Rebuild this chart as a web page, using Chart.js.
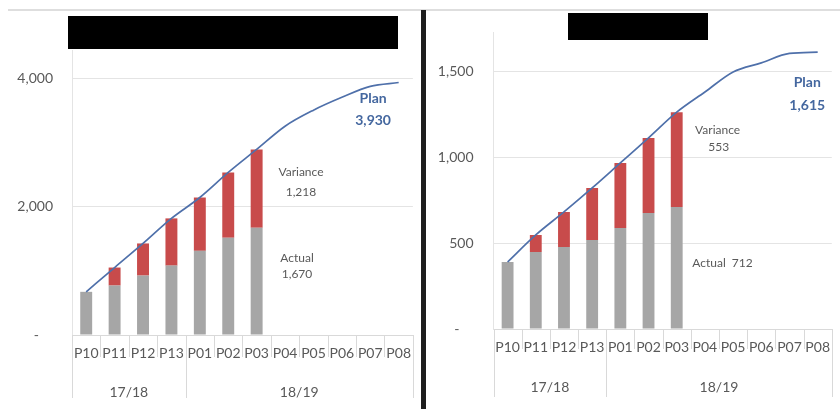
<!DOCTYPE html>
<html>
<head>
<meta charset="utf-8">
<script src="https://cdn.jsdelivr.net/npm/chart.js@4/dist/chart.umd.min.js"></script>
<style>
  html, body { margin: 0; padding: 0; background: #fff; }
  #page { position: relative; width: 840px; height: 409px; overflow: hidden; background: #fff; }
  .abs { position: absolute; }
</style>
</head>
<body>
<div id="page">
  <div class="abs" style="left:8px;top:9px;width:832px;height:2px;background:#dedede"></div>
  <div class="abs" style="left:0;top:0;width:421px;height:409px"><canvas id="left" width="421" height="409"></canvas></div>
  <div class="abs" style="left:427px;top:0;width:413px;height:409px"><canvas id="right" width="413" height="409"></canvas></div>
  <div class="abs" style="left:421px;top:10px;width:5px;height:399px;background:#1e1e1e"></div>
  <div class="abs" style="left:68px;top:16px;width:330px;height:33px;background:#000"></div>
  <div class="abs" style="left:568px;top:13px;width:140px;height:27px;background:#000"></div>
</div>
<script>
// Periods on the category axis, grouped by financial year
const periods = ['P10', 'P11', 'P12', 'P13', 'P01', 'P02', 'P03', 'P04', 'P05', 'P06', 'P07', 'P08'];
const yearLabels = ['17/18', '18/19'];
const yearSpans = [4, 8];

// Left panel: cumulative actual, variance to plan, and plan
const leftActual   = [672, 770, 925, 1080, 1310, 1515, 1670];
const leftVariance = [0, 280, 500, 735, 830, 1015, 1218];
const leftPlan     = [672, 1050, 1425, 1815, 2140, 2530, 2888, 3250, 3500, 3700, 3870, 3930];
const leftTicks    = [0, 2000, 4000];

// Right panel
const rightActual   = [391, 450, 479, 520, 590, 677, 712];
const rightVariance = [0, 99, 204, 303, 379, 438, 553];
const rightPlan     = [391, 549, 683, 823, 969, 1115, 1265, 1383, 1500, 1553, 1608, 1615];
const rightTicks    = [0, 500, 1000, 1500];

const FONT = 'Lato';
const TEXT = '#595959';
const fmt = v => v.toLocaleString('en-US');

// Draws the tick separators under the axis and the financial-year row
const axisGroups = {
  id: 'axisGroups',
  afterDraw(chart, args, o) {
    const x = chart.scales.x, ctx = chart.ctx, b = chart.chartArea.bottom;
    const bounds = [0];
    yearSpans.forEach(s => bounds.push(bounds[bounds.length - 1] + s));
    ctx.save();
    ctx.strokeStyle = '#d9d9d9';
    ctx.lineWidth = 1;
    for (let i = 0; i <= periods.length; i++) {
      const px = Math.round(x.getPixelForValue(i - 0.5)) + 0.5;
      const len = bounds.includes(i) ? o.longTick : o.shortTick;
      ctx.beginPath();
      ctx.moveTo(px, b);
      ctx.lineTo(px, b + len);
      ctx.stroke();
    }
    ctx.fillStyle = TEXT;
    ctx.font = '14px ' + FONT;
    ctx.textAlign = 'center';
    ctx.textBaseline = 'middle';
    yearLabels.forEach((t, k) => {
      const c = (bounds[k] + bounds[k + 1]) / 2 - 0.5;
      ctx.fillText(t, x.getPixelForValue(c), b + o.yearY);
    });
    ctx.restore();
  }
};

// Text callouts placed in data coordinates
const notes = {
  id: 'notes',
  afterDatasetsDraw(chart, args, o) {
    const x = chart.scales.x, y = chart.scales.y, ctx = chart.ctx;
    ctx.save();
    ctx.textBaseline = 'middle';
    o.items.forEach(it => {
      ctx.font = it.font;
      ctx.fillStyle = it.color;
      ctx.textAlign = it.align || 'center';
      ctx.fillText(it.text, x.getPixelForValue(it.xi), y.getPixelForValue(it.yv));
    });
    ctx.restore();
  }
};

const planFont = 'bold 14px ' + FONT;
const planColor = '#44679f';
const noteFont = '12px ' + FONT;

function makeChart(id, cfg) {
  return new Chart(document.getElementById(id), {
    data: {
      labels: periods,
      datasets: [
        { type: 'bar', label: 'Actual', data: cfg.actual, backgroundColor: '#a6a6a6',
          stack: 'bars', order: 2, barPercentage: 0.42, categoryPercentage: 1 },
        { type: 'bar', label: 'Variance', data: cfg.variance, backgroundColor: '#c84b4b',
          stack: 'bars', order: 2, barPercentage: 0.42, categoryPercentage: 1 },
        { type: 'line', label: 'Plan', data: cfg.plan, borderColor: '#4f70aa', borderWidth: 1.7,
          pointRadius: 0, stack: 'plan', order: 1, cubicInterpolationMode: 'monotone', fill: false }
      ]
    },
    options: {
      responsive: false,
      animation: false,
      devicePixelRatio: 1,
      layout: { padding: { top: cfg.top, left: 0, right: 0, bottom: 0 } },
      plugins: {
        legend: { display: false },
        tooltip: { enabled: false },
        axisGroups: cfg.groups,
        notes: { items: cfg.notes }
      },
      scales: {
        x: {
          stacked: true,
          offset: true,
          grid: { display: false, drawTicks: false },
          border: { display: true, color: '#d9d9d9' },
          ticks: { autoSkip: false, maxRotation: 0, minRotation: 0, padding: cfg.xpad,
                   color: TEXT, font: { family: FONT, size: 14 } },
          afterFit(s) { s.height = cfg.xh; }
        },
        y: {
          stacked: true,
          min: 0,
          max: cfg.max,
          grid: { color: '#e4e4e4', drawTicks: false },
          border: { display: true, color: '#e4e4e4' },
          ticks: { padding: cfg.ypad, color: TEXT, font: { family: FONT, size: 14 },
                   callback: v => v === 0 ? '-\u2002\u2002' : fmt(v) },
          afterBuildTicks(s) { s.ticks = cfg.ticks.map(v => ({ value: v })); },
          afterFit(s) { s.width = cfg.yw; }
        }
      }
    },
    plugins: [axisGroups, notes]
  });
}

const L = leftActual.length - 1;
makeChart('left', {
  actual: leftActual, variance: leftVariance, plan: leftPlan, ticks: leftTicks,
  top: 50, max: 4436, xh: 74, yw: 72, xpad: 10, ypad: 19,
  groups: { longTick: 63, shortTick: 22, yearY: 57 },
  notes: [
    { text: 'Plan', xi: 10.1, yv: 3689, font: planFont, color: planColor },
    { text: fmt(leftPlan[leftPlan.length - 1]), xi: 10.1, yv: 3346, font: planFont, color: planColor },
    { text: 'Variance', xi: 7.56, yv: 2537, font: noteFont, color: TEXT },
    { text: fmt(leftVariance[L]), xi: 7.56, yv: 2226, font: noteFont, color: TEXT },
    { text: 'Actual', xi: 7.42, yv: 1198, font: noteFont, color: TEXT },
    { text: fmt(leftActual[L]), xi: 7.42, yv: 950, font: noteFont, color: TEXT }
  ]
});

const R = rightActual.length - 1;
makeChart('right', {
  actual: rightActual, variance: rightVariance, plan: rightPlan, ticks: rightTicks,
  top: 32, max: 1733, xh: 80, yw: 66.5, xpad: 10, ypad: 20,
  groups: { longTick: 68, shortTick: 20, yearY: 58 },
  notes: [
    { text: 'Plan', xi: 10.63, yv: 1436, font: planFont, color: planColor },
    { text: fmt(rightPlan[rightPlan.length - 1]), xi: 10.63, yv: 1307, font: planFont, color: planColor },
    { text: 'Variance', xi: 7.45, yv: 1161, font: noteFont, color: TEXT },
    { text: fmt(rightVariance[R]), xi: 7.49, yv: 1062, font: noteFont, color: TEXT },
    { text: 'Actual  ' + fmt(rightActual[R]), xi: 6.55, yv: 385, font: noteFont, color: TEXT, align: 'left' }
  ]
});
</script>
</body>
</html>
